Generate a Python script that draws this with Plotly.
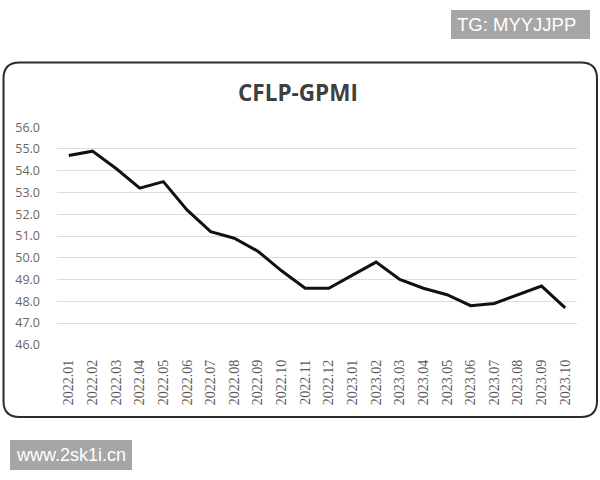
import plotly.graph_objects as go

months = ["2022.01", "2022.02", "2022.03", "2022.04", "2022.05", "2022.06",
          "2022.07", "2022.08", "2022.09", "2022.10", "2022.11", "2022.12",
          "2023.01", "2023.02", "2023.03", "2023.04", "2023.05", "2023.06",
          "2023.07", "2023.08", "2023.09", "2023.10"]
gpmi = [54.7, 54.9, 54.1, 53.2, 53.5, 52.2, 51.2, 50.9, 50.3, 49.4, 48.6, 48.6,
        49.2, 49.8, 49.0, 48.6, 48.3, 47.8, 47.9, 48.3, 48.7, 47.7]
y_ticks = [46.0, 47.0, 48.0, 49.0, 50.0, 51.0, 52.0, 53.0, 54.0, 55.0, 56.0]

W, H = 600, 480
L, R, T, B = 57, 577, 127, 345


def px(x):
    return (x - L) / (R - L)


def py(y):
    return (B - y) / (B - T)


fig = go.Figure()
fig.add_trace(go.Scatter(
    x=months, y=gpmi, mode="lines",
    line=dict(color="#111111", width=3),
    hoverinfo="x+y", showlegend=False,
))

# rounded frame
x0, x1, y0, y1, r = 3.5, 597, 62.5, 417, 16
path = (f"M {px(x0 + r)},{py(y0)} L {px(x1 - r)},{py(y0)} "
        f"Q {px(x1)},{py(y0)} {px(x1)},{py(y0 + r)} "
        f"L {px(x1)},{py(y1 - r)} Q {px(x1)},{py(y1)} {px(x1 - r)},{py(y1)} "
        f"L {px(x0 + r)},{py(y1)} Q {px(x0)},{py(y1)} {px(x0)},{py(y1 - r)} "
        f"L {px(x0)},{py(y0 + r)} Q {px(x0)},{py(y0)} {px(x0 + r)},{py(y0)} Z")

shapes = [
    dict(type="path", xref="paper", yref="paper", path=path,
         line=dict(color="#2b2b2b", width=2), layer="below"),
    dict(type="rect", xref="paper", yref="paper",
         x0=px(451), x1=px(590), y0=py(39), y1=py(10),
         fillcolor="#a6a6a6", line=dict(width=0)),
    dict(type="rect", xref="paper", yref="paper",
         x0=px(10), x1=px(132), y0=py(470), y1=py(440),
         fillcolor="#a6a6a6", line=dict(width=0)),
]

annotations = [
    dict(text="CFLP-GPMI", xref="paper", yref="paper", x=px(298), y=py(92),
         xanchor="center", yanchor="middle", showarrow=False,
         font=dict(family="Open Sans", size=22.5, color="#3f3f3f", weight="bold")),
    dict(text="TG: MYYJJPP", xref="paper", yref="paper", x=px(455), y=py(25),
         xanchor="left", yanchor="middle", showarrow=False,
         font=dict(family="Liberation Sans", size=18.5, color="#ffffff")),
    dict(text="www.2sk1i.cn", xref="paper", yref="paper", x=px(14), y=py(455),
         xanchor="left", yanchor="middle", showarrow=False,
         font=dict(family="Liberation Sans", size=18, color="#ffffff")),
]

fig.update_layout(
    width=W, height=H,
    margin=dict(l=L, r=W - R, t=T, b=H - B, pad=0),
    paper_bgcolor="white", plot_bgcolor="white",
    shapes=shapes, annotations=annotations,
    xaxis=dict(
        type="category", categoryorder="array", categoryarray=months,
        range=[-0.5, len(months) - 0.5],
        showgrid=False, zeroline=False, showline=False,
        tickangle=-90, ticks="", ticklabelstandoff=11,
        tickfont=dict(family="Liberation Serif, serif", size=14, color="#5a5a5a"),
    ),
    yaxis=dict(
        range=[45.99, 56.01], tickmode="array", tickvals=y_ticks,
        ticktext=[f"{v:.1f}" for v in y_ticks],
        showgrid=True, gridcolor="#dcdcdc", gridwidth=1,
        zeroline=False, showline=False, ticks="", ticklabelstandoff=16,
        tickfont=dict(family="Open Sans", size=12.5, color="#666666"),
    ),
)

fig.write_html("out.html", config={"displayModeBar": False},
               post_script="document.body.style.margin='0px';")
